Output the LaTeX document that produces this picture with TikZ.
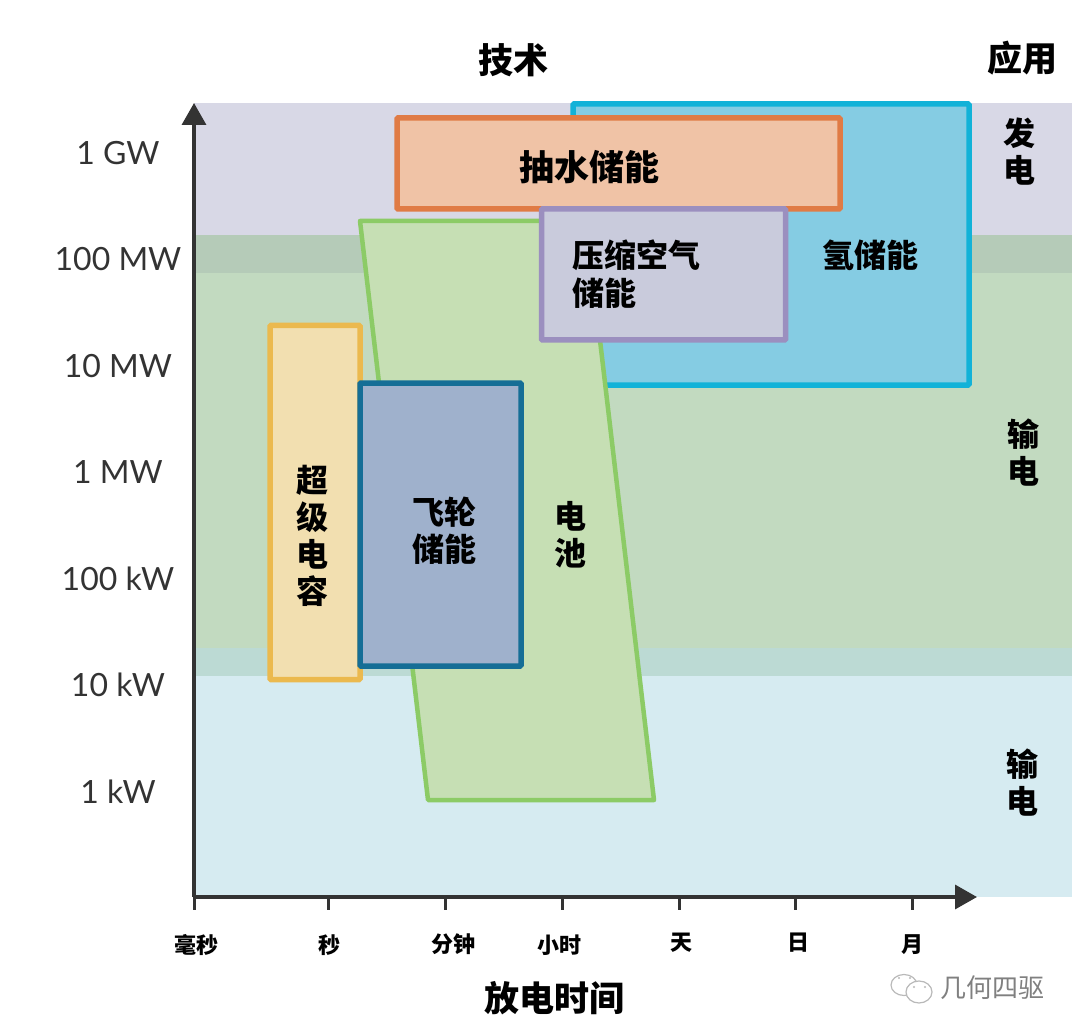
\documentclass[tikz,border=0pt]{standalone}
\usepackage{fontspec}
\usetikzlibrary{arrows.meta}
\setmainfont{Lato}
\newfontfamily\cjkfont{Noto Sans CJK SC}
\definecolor{bandtop}{HTML}{D8D8E6}
\definecolor{bandtopmid}{HTML}{B5CBB8}
\definecolor{bandmid}{HTML}{C2DAC0}
\definecolor{bandmidlow}{HTML}{BCDAD4}
\definecolor{bandlow}{HTML}{D6EBF1}
\definecolor{axisdark}{HTML}{333333}
\definecolor{hydrogenfill}{HTML}{85CCE3}
\definecolor{hydrogenline}{HTML}{12B2D8}
\definecolor{batteryfill}{HTML}{C6DFB4}
\definecolor{batteryline}{HTML}{8CCB66}
\definecolor{pumpedfill}{HTML}{F0C3A6}
\definecolor{pumpedline}{HTML}{E07B45}
\definecolor{airfill}{HTML}{C9CBDC}
\definecolor{airline}{HTML}{9B8FBF}
\definecolor{supercapfill}{HTML}{F2DFB0}
\definecolor{supercapline}{HTML}{EBB94E}
\definecolor{flywheelfill}{HTML}{9FB1CC}
\definecolor{flywheelline}{HTML}{156E96}
\tikzset{
  box/.style={draw,line width=5.5pt,rounded corners=1pt,anchor=north west,inner sep=0pt,outer sep=0pt},
  capt/.style={text=black,inner sep=0pt,align=center,font=\cjkfont\bfseries\fontsize{32}{37}\selectfont},
  head/.style={capt,font=\cjkfont\bfseries\fontsize{35}{40}\selectfont},
  power/.style={text=axisdark,inner sep=0pt,font=\fontsize{32}{36}\selectfont},
  span/.style={capt,font=\cjkfont\bfseries\fontsize{22}{26}\selectfont},
  tick/.style={axisdark,line width=3pt},
  bubble/.style={gray!55,line width=1.2pt},
}
\begin{document}
\begin{tikzpicture}[x=1pt,y=-1pt,>={Triangle[length=22pt,width=24pt]}]
\useasboundingbox (0,0) rectangle (1080,1035);
% bands
\fill[bandtop] (194,103) rectangle (1072,235);
\fill[bandtopmid] (194,235) rectangle (1072,273);
\fill[bandmid] (194,273) rectangle (1072,648);
\fill[bandmidlow] (194,648) rectangle (1072,676);
\fill[bandlow] (194,676) rectangle (1072,897);
% storage boxes
\node[box,fill=hydrogenfill,draw=hydrogenline,minimum width=396pt,minimum height=281pt] (hydrogen) at (573,104) {};
\draw[fill=batteryfill,draw=batteryline,line width=4.5pt,line join=round] (360,221) -- (586,221) -- (654,800) -- (428,800) -- cycle;
\node[box,fill=pumpedfill,draw=pumpedline,minimum width=443pt,minimum height=91pt] (pumped) at (397,118) {};
\node[box,fill=airfill,draw=airline,minimum width=244pt,minimum height=131pt] (air) at (541.5,209) {};
\node[box,fill=supercapfill,draw=supercapline,minimum width=90pt,minimum height=354pt] (supercap) at (270,325.5) {};
\node[box,fill=flywheelfill,draw=flywheelline,minimum width=161pt,minimum height=283pt] (flywheel) at (360,383) {};
% captions
\node[head] (pumpedtext) at (589,167) {抽水储能};
\node[capt] (hydrogentext) at (870,255) {氢储能};
\node[capt,align=left] (airtext) at (636,274) {压缩空气\\[1pt]储能};
\node[capt] (supercaptext) at (312,536) {超\\级\\电\\容};
\node[capt] (flywheeltext) at (444,531) {飞轮\\储能};
\node[capt] (batterytext) at (570,535) {电\\池};
\node[head] (tech) at (513,60) {技术};
\node[head] (use) at (1022,58) {应用};
\node[capt] (usegen) at (1019,152) {发\\电};
\node[capt] (usegrid) at (1023,453) {输\\电};
\node[capt] (useload) at (1022,783) {输\\电};
% axes
\coordinate (origin) at (194,897);
\coordinate (ytip) at (194,103);
\coordinate (xtip) at (977,897);
\draw[->,axisdark,line width=3.5pt] (origin) -- (ytip);
\draw[->,axisdark,line width=3.5pt] (origin) -- (xtip);
% power labels
\node[power] (gw) at (118,153) {1 GW};
\node[power] (hmw) at (118,259) {100 MW};
\node[power] (tmw) at (118,366) {10 MW};
\node[power] (mw) at (118,472) {1 MW};
\node[power] (hkw) at (118,579) {100 kW};
\node[power] (tkw) at (118,685) {10 kW};
\node[power] (kw) at (118,792) {1 kW};
% time ticks
\coordinate (t0) at (194,897);
\coordinate (t1) at (328,897);
\coordinate (t2) at (445,897);
\coordinate (t3) at (562,897);
\coordinate (t4) at (679,897);
\coordinate (t5) at (795,897);
\coordinate (t6) at (912,897);
\draw[tick] (t0) -- ++(0,13);
\draw[tick] (t1) -- ++(0,13);
\draw[tick] (t2) -- ++(0,13);
\draw[tick] (t3) -- ++(0,13);
\draw[tick] (t4) -- ++(0,13);
\draw[tick] (t5) -- ++(0,13);
\draw[tick] (t6) -- ++(0,13);
\node[span] (ms) at (196,945) {毫秒};
\node[span] (sec) at (329,945) {秒};
\node[span] (minute) at (453,944) {分钟};
\node[span] (hour) at (559,945) {小时};
\node[span] (day) at (681,943) {天};
\node[span] (date) at (798,943) {日};
\node[span] (month) at (912,945) {月};
\node[head] (timetext) at (554,998) {放电时间};
% watermark
\draw[bubble] (904,985) ellipse (13pt and 10.5pt);
\draw[bubble,fill=white] (919,992) ellipse (13pt and 11pt);
\fill[gray!55] (899,978) circle (1.2pt) (910,978) circle (1.2pt) (914,987) circle (1.2pt) (925,987) circle (1.2pt);
\node[text=gray,inner sep=0pt,font=\cjkfont\fontsize{26}{30}\selectfont] (mark) at (992,988) {几何四驱};
\end{tikzpicture}
\end{document}
